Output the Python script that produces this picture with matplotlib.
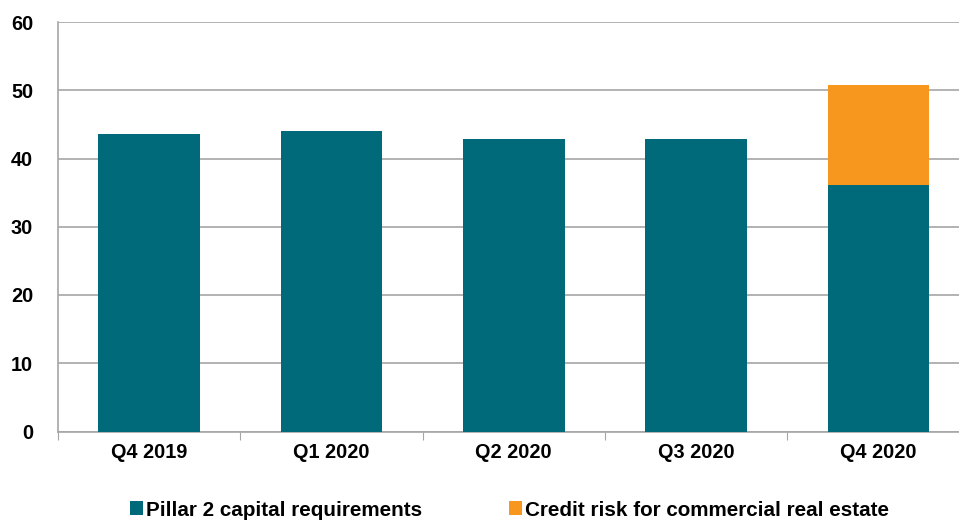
import matplotlib
matplotlib.use("Agg")
import matplotlib.pyplot as plt
from matplotlib.patches import Patch
import numpy as np

plt.rcParams['font.family'] = ['Liberation Sans', 'DejaVu Sans']

quarters = ["Q4 2019", "Q1 2020", "Q2 2020", "Q3 2020", "Q4 2020"]
pillar2 = [43.6, 44.0, 42.9, 42.9, 36.1]
cre_credit_risk = [0, 0, 0, 0, 14.7]
series_names = ["Pillar 2 capital requirements", "Credit risk for commercial real estate"]

teal = "#006A7A"
orange = "#F7971E"
grey = "#A6A6A6"

W, H = 959, 520
left_px, right_px = 58, 969.5
top_px, bottom_px = 22, 431.5

fig = plt.figure(figsize=(W / 100, H / 100), dpi=100)
ax = fig.add_axes([left_px / W, (H - bottom_px) / H,
                   (right_px - left_px) / W, (bottom_px - top_px) / H])

x = np.arange(len(quarters))
w = 0.557
ax.bar(x, pillar2, width=w, color=teal, zorder=3)
ax.bar(x, cre_credit_risk, width=w, bottom=pillar2, color=orange, zorder=3)

ax.set_xlim(-0.5, len(quarters) - 0.5)
ax.set_ylim(0, 60)
ax.set_yticks(np.arange(0, 61, 10))
ax.yaxis.grid(True, color=grey, linewidth=1.2, zorder=0)
ax.set_axisbelow(True)

# category boundary ticks on the x axis, labels centred under bars
ax.set_xticks(np.arange(-0.5, len(quarters), 1.0))
ax.set_xticklabels([])
ax.set_xticks(x, minor=True)
ax.set_xticklabels(quarters, minor=True, fontsize=14.3, fontweight='bold')
ax.tick_params(axis='x', which='major', length=6, color=grey, direction='out')
ax.tick_params(axis='x', which='minor', length=0, pad=8)
ax.tick_params(axis='y', length=0, pad=18, labelsize=14.3)
for lbl in ax.get_yticklabels():
    lbl.set_fontweight('bold')

for s in ['top', 'right']:
    ax.spines[s].set_visible(False)
for s in ['left', 'bottom']:
    ax.spines[s].set_color(grey)
    ax.spines[s].set_linewidth(1.2)

handles = [Patch(facecolor=teal, label=series_names[0]),
           Patch(facecolor=orange, label=series_names[1])]
fig.legend(handles=handles, loc='center', bbox_to_anchor=(0.531, 10 / H),
           ncol=2, frameon=False, handlelength=0.65, handleheight=0.65,
           handletextpad=0.12, columnspacing=4.2,
           prop={'size': 14.9, 'weight': 'bold'})

fig.savefig("out.png", dpi=100)
